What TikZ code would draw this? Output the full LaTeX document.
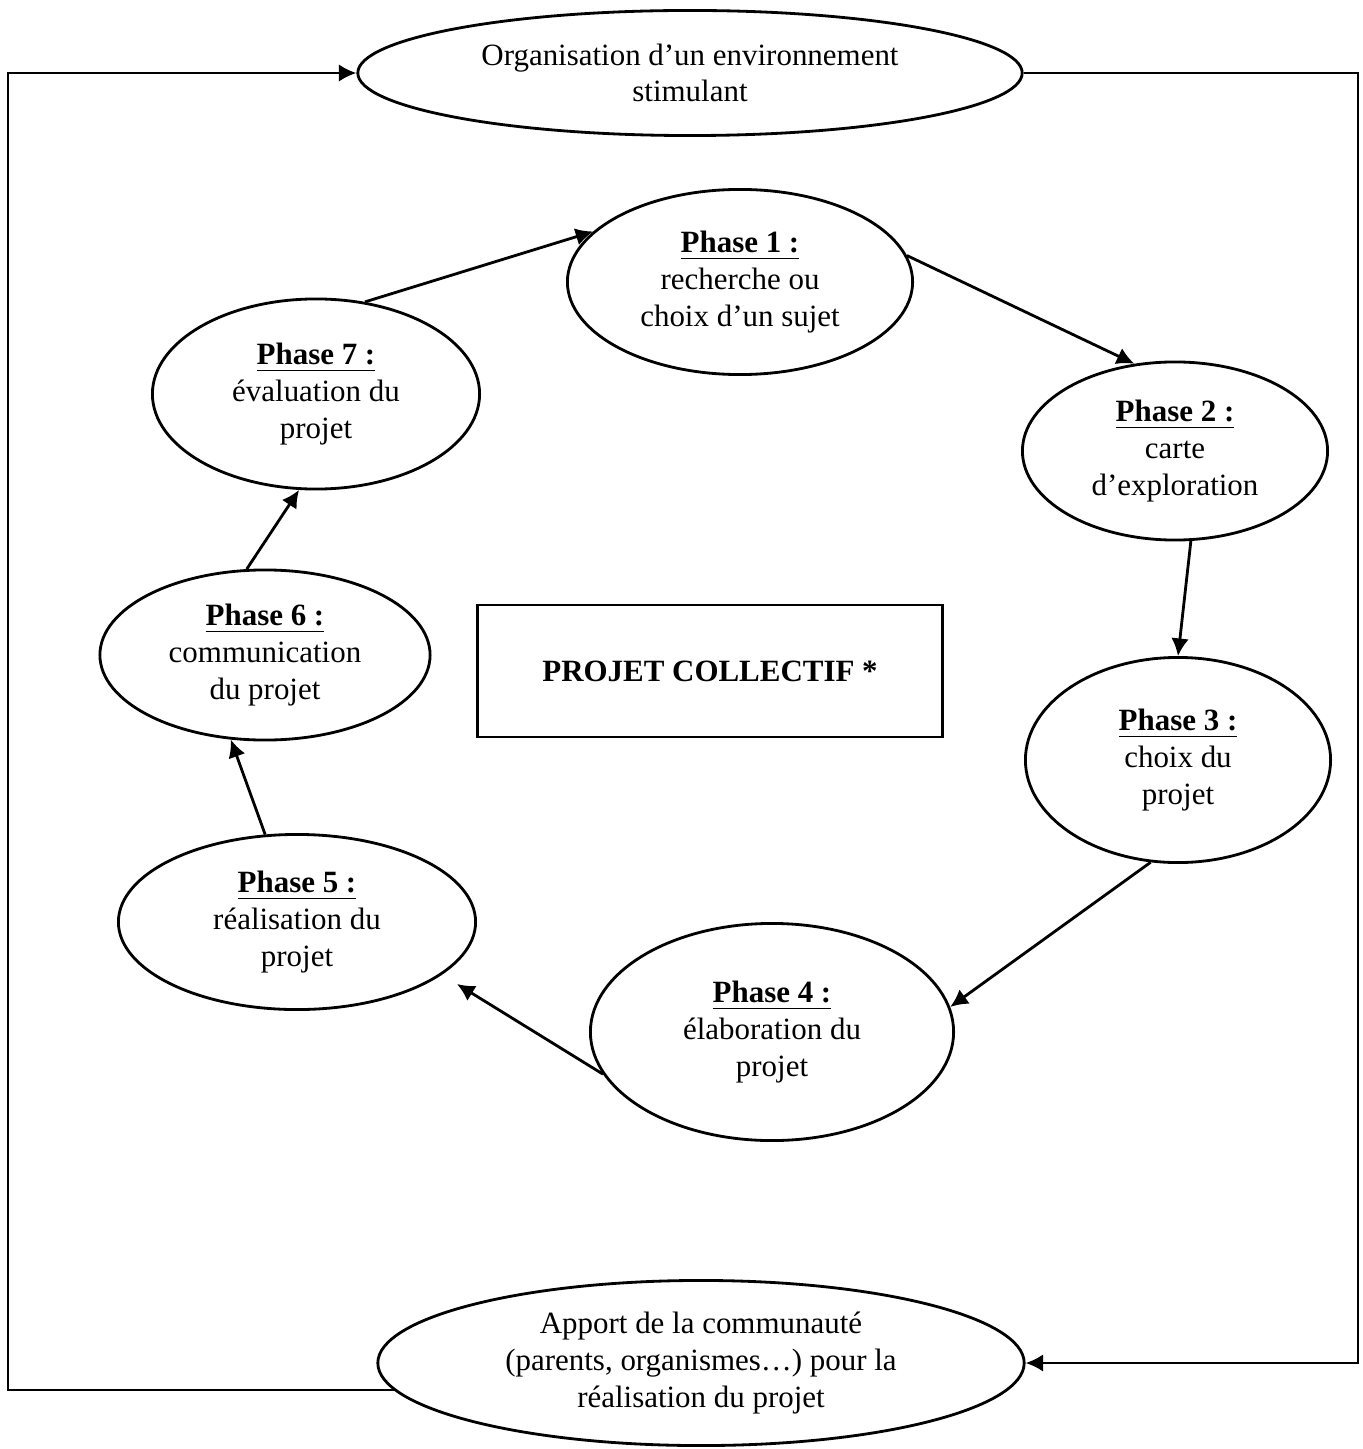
\documentclass[tikz,border=0pt]{standalone}
\usepackage{fontspec}
\setmainfont{Liberation Serif}
\usetikzlibrary{shapes.geometric, arrows.meta}

\newcommand{\titrephase}[1]{\underline{\textbf{Phase #1 :}}}

\begin{document}
\begin{tikzpicture}[x=0.01cm, y=-0.01cm, line width=0.8pt,
  every node/.style={font=\fontsize{8.8}{10.4}\selectfont, align=center},
  bulle/.style={draw, ellipse, inner sep=0pt},
  fleche/.style={-{Latex[length=5pt,width=5pt]}}]
\useasboundingbox (0,0) rectangle (1362,1449);

% environnement et communaute
\node[bulle, minimum width=6.64cm, minimum height=1.25cm] (org) at (690,73)
  {Organisation d’un environnement\\stimulant};
\node[bulle, minimum width=6.46cm, minimum height=1.65cm] (apport) at (701,1363)
  {Apport de la communauté\\(parents, organismes…) pour la\\réalisation du projet};

% les sept phases
\node[bulle, minimum width=3.45cm, minimum height=1.85cm] (p1) at (740,282)
  {\titrephase{1}\\recherche ou\\choix d’un sujet};
\node[bulle, minimum width=3.05cm, minimum height=1.78cm] (p2) at (1175,451)
  {\titrephase{2}\\carte\\d’exploration};
\node[bulle, minimum width=3.05cm, minimum height=2.05cm] (p3) at (1178,760)
  {\titrephase{3}\\choix du\\projet};
\node[bulle, minimum width=3.63cm, minimum height=2.17cm] (p4) at (772,1032)
  {\titrephase{4}\\élaboration du\\projet};
\node[bulle, minimum width=3.57cm, minimum height=1.75cm] (p5) at (297,922)
  {\titrephase{5}\\réalisation du\\projet};
\node[bulle, minimum width=3.30cm, minimum height=1.70cm] (p6) at (265,655)
  {\titrephase{6}\\communication\\du projet};
\node[bulle, minimum width=3.27cm, minimum height=1.90cm] (p7) at (316,394)
  {\titrephase{7}\\évaluation du\\projet};

\node[draw, minimum width=4.64cm, minimum height=1.32cm] (projet) at (710,671)
  {\textbf{PROJET COLLECTIF *}};

% le cycle
\draw[fleche] (p7.62) -- (p1.161);
\draw[fleche] (p1.9) -- (p2.115);
\draw[fleche] (p2.280) -- (p3.90);
\draw[fleche] (p3.255) -- (p4.8);
\draw[fleche, shorten >=5pt] (p4.194) -- (p5.340);
\draw[fleche] (p5.110) -- (p6.248);
\draw[fleche] (p6.102) -- (p7.260);

% boucle exterieure
\coordinate (cg) at (8,700);
\coordinate (cd) at (1358,700);
\draw[fleche] (apport.185) -| (cg) |- (org.west);
\draw[fleche] (org.east) -| (cd) |- (apport.east);
\end{tikzpicture}
\end{document}
